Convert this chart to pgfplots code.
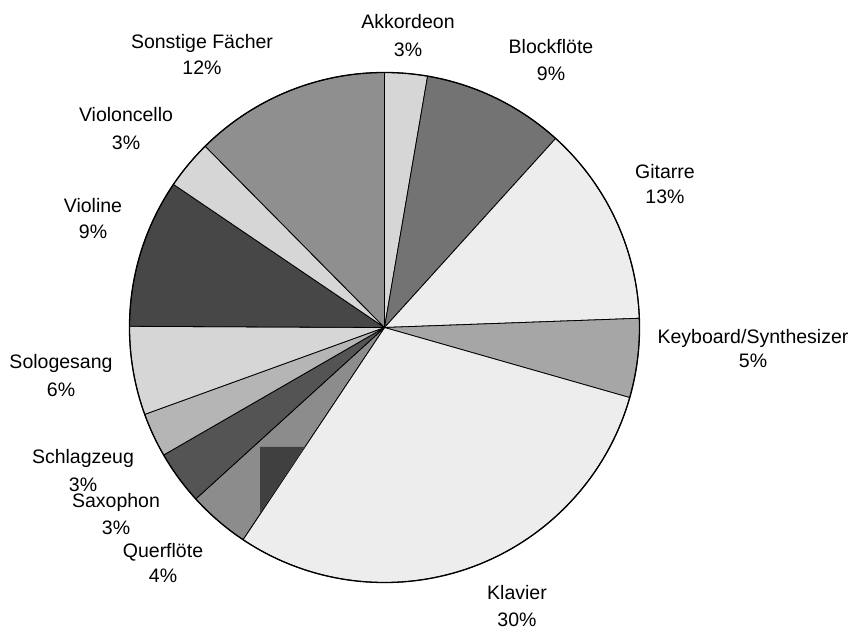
\documentclass[border=0pt]{standalone}
\usepackage{fontspec}
\setmainfont{Liberation Sans}
\usepackage{pgfplots}
\usepackage{pgfplotstable}
\pgfplotsset{compat=1.18}

\definecolor{cAkk}{gray}{0.84}
\definecolor{cBlock}{gray}{0.45}
\definecolor{cGit}{gray}{0.93}
\definecolor{cKey}{gray}{0.65}
\definecolor{cKlav}{gray}{0.93}
\definecolor{cQuer}{gray}{0.55}
\definecolor{cSax}{gray}{0.33}
\definecolor{cSchlag}{gray}{0.71}
\definecolor{cSolo}{gray}{0.84}
\definecolor{cViol}{gray}{0.28}
\definecolor{cCello}{gray}{0.84}
\definecolor{cSonst}{gray}{0.56}
\definecolor{cPatch}{gray}{0.25}

\newcommand\labelfont{\fontsize{19.5}{24}\selectfont}

% name, share, fill, label x, label line centres (pixels from top), label %
\pgfplotstableread[col sep=comma]{
name,val,col,lx,lyA,lyB,pct
Akkordeon,2.7,cAkk,408,22,50,3
Blockflöte,9.0,cBlock,551,47,74,9
Gitarre,12.7,cGit,665,172,197,13
Keyboard/Synthesizer,5.0,cKey,753,337,361,5
Klavier,29.9,cKlav,517,592,619,30
Querflöte,3.9,cQuer,163,550,575,4
Saxophon,3.4,cSax,116,500,527,3
Schlagzeug,2.8,cSchlag,83,457,485,3
Sologesang,5.6,cSolo,61,362,390,6
Violine,9.4,cViol,93,206,232,9
Violoncello,3.1,cCello,126,115,143,3
Sonstige Fächer,12.4,cSonst,202,42,68,12
}\piedata

\begin{document}
\begin{tikzpicture}
\begin{axis}[
  scale only axis, width=853pt, height=629pt,
  xmin=0, xmax=853, ymin=0, ymax=629,
  enlargelimits=false, ticks=none,
  axis line style={draw=none},
  clip=false]
\def\cum{0}
\def\total{0}
\pgfplotsforeachungrouped \i in {0,...,11}{%
  \pgfplotstablegetelem{\i}{val}\of\piedata
  \pgfmathsetmacro{\total}{\total+\pgfplotsretval}%
}
\pgfplotsforeachungrouped \i in {0,...,11}{%
  \pgfplotstablegetelem{\i}{val}\of\piedata \let\sliceval\pgfplotsretval
  \pgfplotstablegetelem{\i}{col}\of\piedata \let\slicecol\pgfplotsretval
  \pgfmathsetmacro{\aA}{90-(\cum/\total)*360}%
  \pgfmathsetmacro{\cum}{\cum+\sliceval}%
  \pgfmathsetmacro{\aB}{90-(\cum/\total)*360}%
  \edef\temp{\noexpand\filldraw[fill=\slicecol, draw=black, line width=0.8pt, line join=round]
    (axis cs:384.5,301.5) -- ++(\aA:255pt) arc[start angle=\aA, end angle=\aB, radius=255pt] -- cycle;}%
  \temp
}
% dark patch inside the Querflöte slice
\addplot[fill=cPatch, draw=none] coordinates {(260,182) (305,182) (260,116)} -- cycle;
\draw[line width=1.3pt] (axis cs:384.5,301.5) circle[radius=255pt];
% labels
\pgfplotsforeachungrouped \i in {0,...,11}{%
  \pgfplotstablegetelem{\i}{name}\of\piedata \let\lname\pgfplotsretval
  \pgfplotstablegetelem{\i}{lx}\of\piedata \let\lx\pgfplotsretval
  \pgfplotstablegetelem{\i}{lyA}\of\piedata \pgfmathsetmacro{\ya}{629-\pgfplotsretval-7}%
  \pgfplotstablegetelem{\i}{lyB}\of\piedata \pgfmathsetmacro{\yb}{629-\pgfplotsretval-7}%
  \pgfplotstablegetelem{\i}{pct}\of\piedata \let\lpct\pgfplotsretval
  \edef\temp{\noexpand\node[anchor=base, inner sep=0pt, font=\noexpand\labelfont] at (axis cs:\lx,\ya) {\lname};
    \noexpand\node[anchor=base, inner sep=0pt, font=\noexpand\labelfont] at (axis cs:\lx,\yb) {\lpct\noexpand\%};}%
  \temp
}
\end{axis}
\end{tikzpicture}
\end{document}
